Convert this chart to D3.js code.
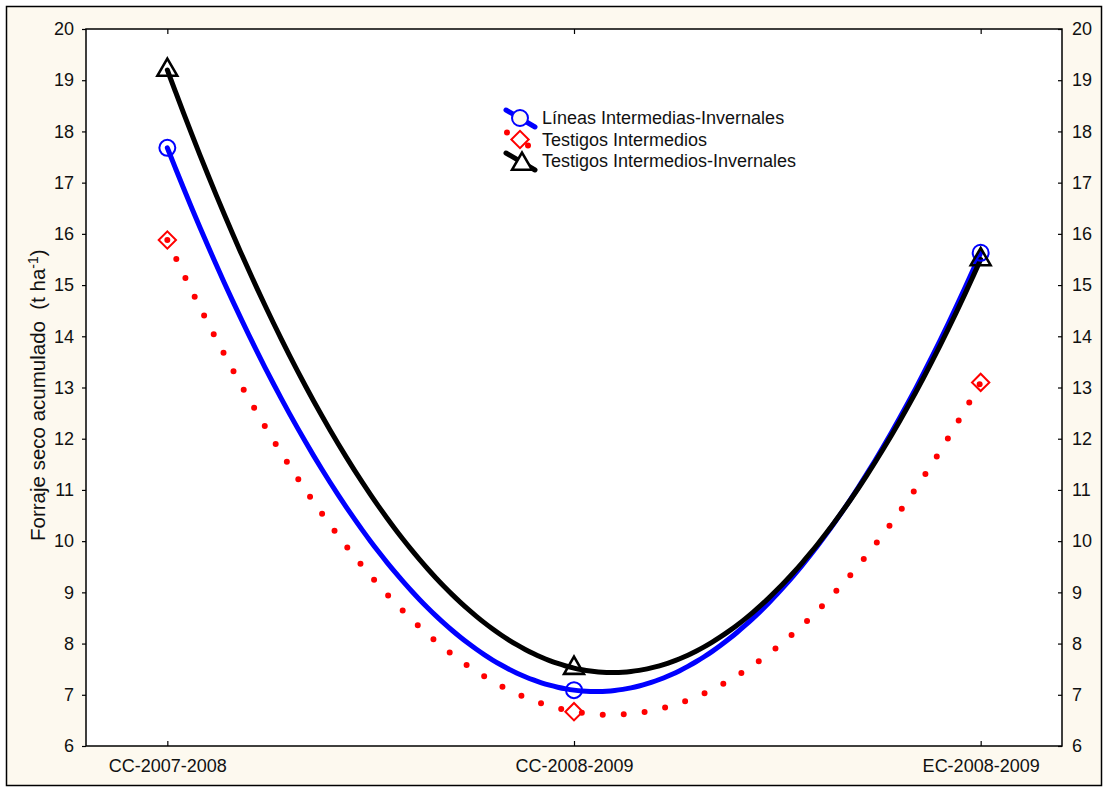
<!DOCTYPE html>
<html>
<head>
<meta charset="utf-8">
<script src="https://cdn.jsdelivr.net/npm/d3@7"></script>
<style>
  body { margin: 0; background: #ffffff; }
  svg text { font-family: "Liberation Sans", Arial, sans-serif; fill: #111; }
</style>
</head>
<body>
<div id="drawing_region"></div>
<script>
// Categories and series values
const categories = ["CC-2007-2008", "CC-2008-2009", "EC-2008-2009"];
const lineasIntInv = [17.68, 7.09, 15.63];
const testigosInt = [15.88, 6.67, 13.1];
const testigosIntInv = [19.2, 7.52, 15.5];
const yTicks = [6, 7, 8, 9, 10, 11, 12, 13, 14, 15, 16, 17, 18, 19, 20];

const series = [
    { name: "Líneas Intermedias-Invernales", values: lineasIntInv, color: "#0000ff", symbol: "circle", dotted: false },
    { name: "Testigos Intermedios", values: testigosInt, color: "#ff0000", symbol: "diamond", dotted: true },
    { name: "Testigos Intermedios-Invernales", values: testigosIntInv, color: "#000000", symbol: "triangle", dotted: false }
];

const width = 1103, height = 787;
const margin = { top: 29, right: 41, bottom: 41, left: 86 };
const innerW = width - margin.left - margin.right;
const innerH = height - margin.top - margin.bottom;

const svg = d3.select('#drawing_region')
    .append('svg')
    .attr('width', width)
    .attr('height', height);

// background panel
svg.append('rect')
    .attr('x', 6.5).attr('y', 6.5)
    .attr('width', width - 8).attr('height', height - 8)
    .attr('fill', '#fdf9ef')
    .attr('stroke', '#000').attr('stroke-width', 1.5);

const chart = svg.append('g')
    .attr('transform', `translate(${margin.left}, ${margin.top})`);

chart.append('rect')
    .attr('width', innerW).attr('height', innerH)
    .attr('fill', '#ffffff');

// x as position index, so the quadratic fit can be drawn smoothly
const xscale = d3.scaleLinear().domain([-0.2, 2.2]).range([0, innerW]);
const yscale = d3.scaleLinear().domain([6, 20]).range([innerH, 0]);

// axes
const tickFmt = d => d;
chart.append('g')
    .attr('transform', `translate(0, ${innerH})`)
    .call(d3.axisBottom(xscale).tickValues([0, 1, 2]).tickFormat(i => categories[i]).tickSizeInner(-5).tickSizeOuter(0).tickPadding(13))
    .call(g => g.select('.domain').remove());
chart.append('g')
    .call(d3.axisTop(xscale).tickValues([0, 1, 2]).tickFormat('').tickSizeInner(-5).tickSizeOuter(0))
    .call(g => g.select('.domain').remove());
chart.append('g')
    .call(d3.axisLeft(yscale).tickValues(yTicks).tickFormat(tickFmt).tickSize(4).tickSizeOuter(0).tickPadding(8))
    .call(g => g.select('.domain').remove());
chart.append('g')
    .attr('transform', `translate(${innerW}, 0)`)
    .call(d3.axisRight(yscale).tickValues(yTicks).tickFormat(tickFmt).tickSizeInner(-4).tickSizeOuter(0).tickPadding(10))
    .call(g => g.select('.domain').remove());

chart.selectAll('.tick text').attr('font-size', 18).attr('fill', '#111');
chart.selectAll('.tick line').attr('stroke', '#000').attr('stroke-width', 1.2);

chart.append('rect')
    .attr('width', innerW).attr('height', innerH)
    .attr('fill', 'none').attr('stroke', '#000').attr('stroke-width', 1.5);

// y label
svg.append('text')
    .attr('transform', `translate(45, ${margin.top + yscale(12.85)}) rotate(-90)`)
    .attr('text-anchor', 'middle')
    .attr('font-size', 20.5)
    .html('Forraje seco acumulado&#160;&#160;(t ha<tspan dy="-7" font-size="14">-1</tspan><tspan dy="7">)</tspan>');

// quadratic fit through the three points (as in the original chart)
function quadFit(v) {
    const a = (v[0] - 2 * v[1] + v[2]) / 2;
    const b = v[1] - v[0] - a;
    return t => v[0] + b * t + a * t * t;
}

const line = d3.line()
    .x(d => xscale(d[0]))
    .y(d => yscale(d[1]))
    .curve(d3.curveBasis);

const sym = {
    circle: d3.symbol().type(d3.symbolCircle).size(200),
    diamond: d3.symbol().type(d3.symbolSquare).size(150),
    triangle: d3.symbol().type(d3.symbolTriangle).size(170)
};

function drawSymbol(g, s, x, y) {
    g.append('path')
        .attr('d', sym[s.symbol]())
        .attr('transform', `translate(${x}, ${y})` + (s.symbol === 'diamond' ? ' rotate(45)' : ''))
        .attr('fill', 'none')
        .attr('stroke', s.color)
        .attr('stroke-width', s.symbol === 'triangle' ? 2.6 : 2);
}

// draw order: red dotted, blue, black
[series[1], series[0], series[2]].forEach(s => {
    const f = quadFit(s.values);
    const pts = d3.range(0, 2.0001, 0.02).map(t => [t, f(t)]);
    chart.append('path')
        .attr('d', line(pts))
        .attr('fill', 'none')
        .attr('stroke', s.color)
        .attr('stroke-width', s.dotted ? 6 : 5)
        .attr('stroke-linecap', 'round')
        .attr('stroke-dasharray', s.dotted ? '0,21' : null);
});
series.forEach(s => {
    s.values.forEach((v, i) => drawSymbol(chart, s, xscale(i), yscale(v)));
});

// legend
const legend = svg.append('g');
series.forEach((s, i) => {
    const y = 118 + i * 21.5;
    if (s.dotted) {
        legend.append('circle').attr('cx', 507).attr('cy', y - 7).attr('r', 3).attr('fill', s.color);
        legend.append('circle').attr('cx', 528).attr('cy', y + 6).attr('r', 3).attr('fill', s.color);
    } else {
        legend.append('line')
            .attr('x1', 506).attr('y1', y - 8)
            .attr('x2', 535).attr('y2', y + 9)
            .attr('stroke', s.color).attr('stroke-width', 5)
            .attr('stroke-linecap', 'round');
    }
    legend.append('circle').attr('cx', 520).attr('cy', y).attr('r', 8).attr('fill', s.symbol === 'circle' ? '#fdf9ef' : 'none');
    if (s.symbol === 'triangle') {
        legend.append('path').attr('d', sym.triangle()).attr('transform', `translate(522, ${y + 3})`).attr('fill', '#fff');
    }
    drawSymbol(legend, s, s.symbol === 'triangle' ? 522 : 520, s.symbol === 'triangle' ? y + 3 : y);
    legend.append('text')
        .attr('x', 542).attr('y', y + 6)
        .attr('font-size', 18)
        .text(s.name);
});
</script>
</body>
</html>
